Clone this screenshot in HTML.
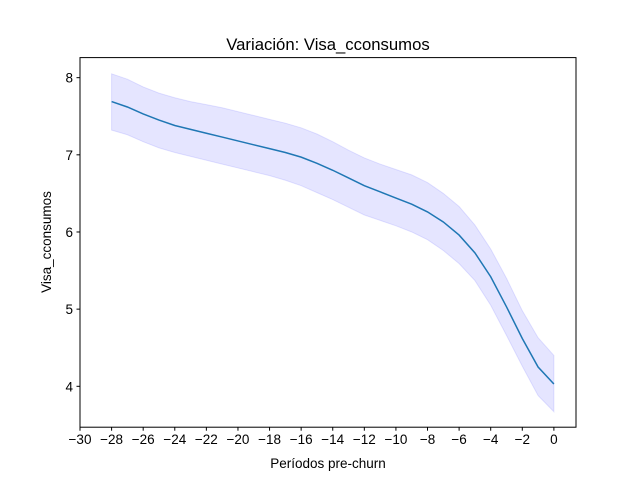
<!DOCTYPE html>
<html><head><meta charset="utf-8"><style>
body{margin:0;background:#fff}
svg text{font-family:"Liberation Sans","DejaVu Sans",sans-serif;fill:#000}
</style></head><body>
<svg id="chart" width="640" height="480" xmlns="http://www.w3.org/2000/svg">
<rect width="640" height="480" fill="#fff"/>
<text x="328" y="50" font-size="16.7" text-anchor="middle">Variación: Visa_cconsumos</text>
<g id="band"></g><g id="line"></g><g id="xt"></g><g id="yt"></g>
<rect x="80" y="57.6" width="496" height="369.6" fill="none" stroke="#000" stroke-width="1"/>
<text x="328" y="468" font-size="13.5" text-anchor="middle">Períodos pre-churn</text>
<text x="0" y="0" font-size="13.5" text-anchor="middle" transform="translate(51,242) rotate(-90)">Visa_cconsumos</text>
</svg>
<script>
const periods=[-28,-27,-26,-25,-24,-23,-22,-21,-20,-19,-18,-17,-16,-15,-14,-13,-12,-11,-10,-9,-8,-7,-6,-5,-4,-3,-2,-1,0];
const meanVals=[7.69,7.62,7.53,7.45,7.38,7.33,7.28,7.23,7.18,7.13,7.08,7.03,6.97,6.89,6.80,6.70,6.60,6.52,6.44,6.36,6.26,6.13,5.96,5.73,5.42,5.03,4.62,4.25,4.03];
const upperVals=[8.05,7.98,7.88,7.80,7.74,7.69,7.65,7.61,7.56,7.51,7.46,7.41,7.35,7.27,7.17,7.06,6.96,6.88,6.81,6.74,6.64,6.50,6.33,6.09,5.78,5.40,4.98,4.63,4.40];
const lowerVals=[7.32,7.26,7.17,7.09,7.03,6.98,6.93,6.88,6.83,6.78,6.73,6.67,6.60,6.51,6.42,6.32,6.22,6.15,6.08,6.00,5.90,5.76,5.59,5.37,5.05,4.66,4.26,3.88,3.67];
const xTicks=[-30,-28,-26,-24,-22,-20,-18,-16,-14,-12,-10,-8,-6,-4,-2,0];
const yTicks=[4,5,6,7,8];
const L=80,R=576,T=57.6,B=427.2,x0=-30,x1=1.4,y0=3.47,y1=8.26;
const sx=v=>L+(v-x0)/(x1-x0)*(R-L);
const sy=v=>B-(v-y0)/(y1-y0)*(B-T);
const NS="http://www.w3.org/2000/svg";
function mk(t,a,p){const e=document.createElementNS(NS,t);for(const k in a)e.setAttribute(k,a[k]);p.appendChild(e);return e;}
let pts=periods.map((p,i)=>sx(p)+","+sy(upperVals[i]));
for(let i=periods.length-1;i>=0;i--)pts.push(sx(periods[i])+","+sy(lowerVals[i]));
const band=mk('polygon',{points:pts.join(' '),fill:'rgba(0,0,255,0.1)',stroke:'rgba(0,0,255,0.1)'},document.getElementById('band'));


const ln=mk('polyline',{points:periods.map((p,i)=>sx(p)+","+sy(meanVals[i])).join(' '),fill:'none',stroke:'#1f77b4','stroke-width':1.5},document.getElementById('line'));


const xg=document.getElementById('xt');
xTicks.forEach(v=>{const x=sx(v);
const t=mk('line',{x1:x,x2:x,y1:B,y2:B+3.5,stroke:'#000'},xg);


const l=mk('text',{x:x,y:B+17,'font-size':13.5,'text-anchor':'middle'},xg);l.textContent=(v<0?'−':'')+Math.abs(v);

});
const yg=document.getElementById('yt');
yTicks.forEach(v=>{const y=sy(v);
const t=mk('line',{x1:L-3.5,x2:L,y1:y,y2:y,stroke:'#000'},yg);


const l=mk('text',{x:L-7,y:y+5,'font-size':13.5,'text-anchor':'end'},yg);l.textContent=v;

});
</script>
</body></html>
